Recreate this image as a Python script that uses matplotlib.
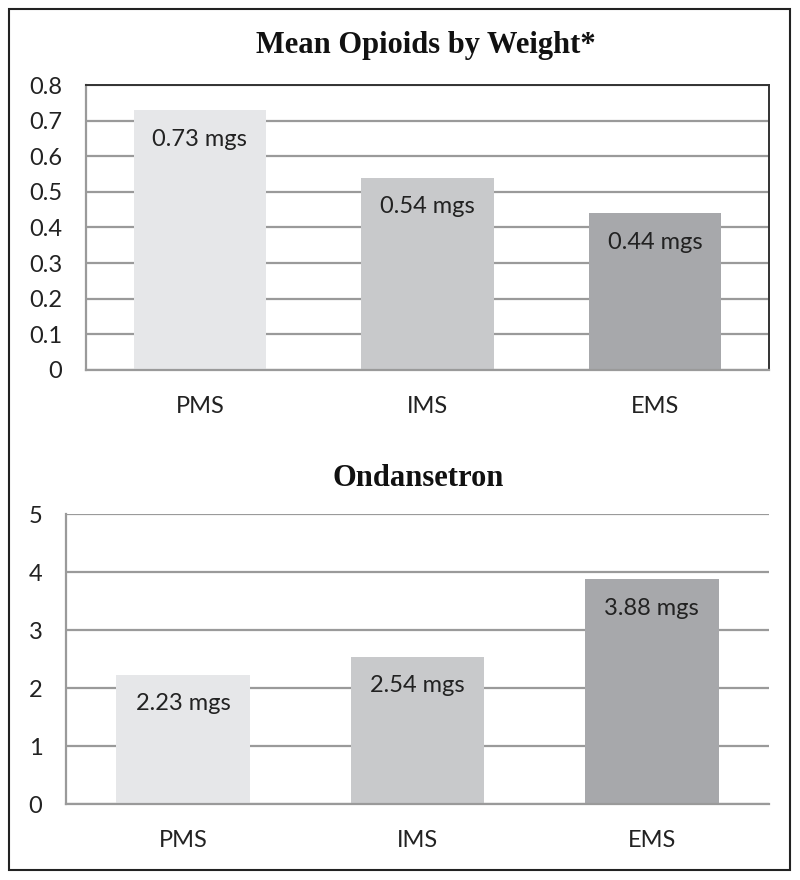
import matplotlib
matplotlib.use("Agg")
import matplotlib.pyplot as plt
from matplotlib.patches import Rectangle

categories = ["PMS", "IMS", "EMS"]
opioid_values = [0.73, 0.54, 0.44]
ondansetron_values = [2.23, 2.54, 3.88]
opioid_ticks = [0, 0.1, 0.2, 0.3, 0.4, 0.5, 0.6, 0.7, 0.8]
opioid_tick_labels = ["0", "0.1", "0.2", "0.3", "0.4", "0.5", "0.6", "0.7", "0.8"]
ond_ticks = [0, 1, 2, 3, 4, 5]
ond_tick_labels = ["0", "1", "2", "3", "4", "5"]
title_top = "Mean Opioids by Weight*"
title_bottom = "Ondansetron"
bar_colors = ["#e6e7e9", "#c8c9cb", "#a7a8ab"]

W, H = 800, 880
fig = plt.figure(figsize=(W / 100, H / 100), dpi=100)
fig.patch.set_facecolor("white")

# outer border
fig.add_artist(Rectangle((9 / W, 1 - 870 / H), (790 - 9) / W, (870 - 9) / H,
                         transform=fig.transFigure, fill=False,
                         edgecolor="#222222", linewidth=1.5))

sans = ["Lato", "DejaVu Sans"]
serif = ["Liberation Serif", "DejaVu Serif"]
grid_c = "#9a9a9a"
fs = 17


def make_axes(left, right, top, bottom):
    return fig.add_axes([left / W, 1 - bottom / H, (right - left) / W, (bottom - top) / H])


def style(ax, ticks, labels, ymax, frame_dark):
    ax.set_xlim(-0.5, 2.5)
    ax.set_ylim(0, ymax)
    ax.set_yticks(ticks)
    ax.set_yticklabels(labels, fontsize=fs, family=sans, color="#222222")
    ax.set_xticks(range(len(categories)))
    ax.set_xticklabels(categories, fontsize=fs, family=sans, color="#222222")
    ax.tick_params(axis="both", length=0)
    ax.tick_params(axis="x", pad=19)
    ax.tick_params(axis="y", pad=17)
    ax.yaxis.grid(True, color=grid_c, linewidth=1.6)
    ax.set_axisbelow(True)
    for s in ["left", "bottom"]:
        ax.spines[s].set_color(grid_c)
        ax.spines[s].set_linewidth(1.6)
    if frame_dark:
        for s in ["top", "right"]:
            ax.spines[s].set_color("#333333")
            ax.spines[s].set_linewidth(1.4)
    else:
        for s in ["top", "right"]:
            ax.spines[s].set_visible(False)


# top chart
ax1 = make_axes(86, 769, 85, 370)
ax1.bar(range(len(categories)), opioid_values, width=0.58, color=bar_colors, zorder=2)
style(ax1, opioid_ticks, opioid_tick_labels, 0.8, True)
for i, v in enumerate(opioid_values):
    ax1.annotate(f"{v:.2f} mgs", (i, v), xytext=(0, -21), textcoords="offset points",
                 ha="center", va="center", fontsize=fs, family=sans, color="#222222", zorder=3)
fig.text(426 / W, 1 - 46 / H, title_top, ha="center", va="center",
         fontsize=22, fontweight="bold", family=serif, color="#111111")

# bottom chart
ax2 = make_axes(66, 769, 514, 804)
ax2.bar(range(len(categories)), ondansetron_values, width=0.57, color=bar_colors, zorder=2)
style(ax2, ond_ticks, ond_tick_labels, 5, False)
for i, v in enumerate(ondansetron_values):
    ax2.annotate(f"{v:.2f} mgs", (i, v), xytext=(0, -21), textcoords="offset points",
                 ha="center", va="center", fontsize=fs, family=sans, color="#222222", zorder=3)
fig.text(418 / W, 1 - 478 / H, title_bottom, ha="center", va="center",
         fontsize=22, fontweight="bold", family=serif, color="#111111")

fig.savefig("out.png", dpi=100, facecolor="white")
